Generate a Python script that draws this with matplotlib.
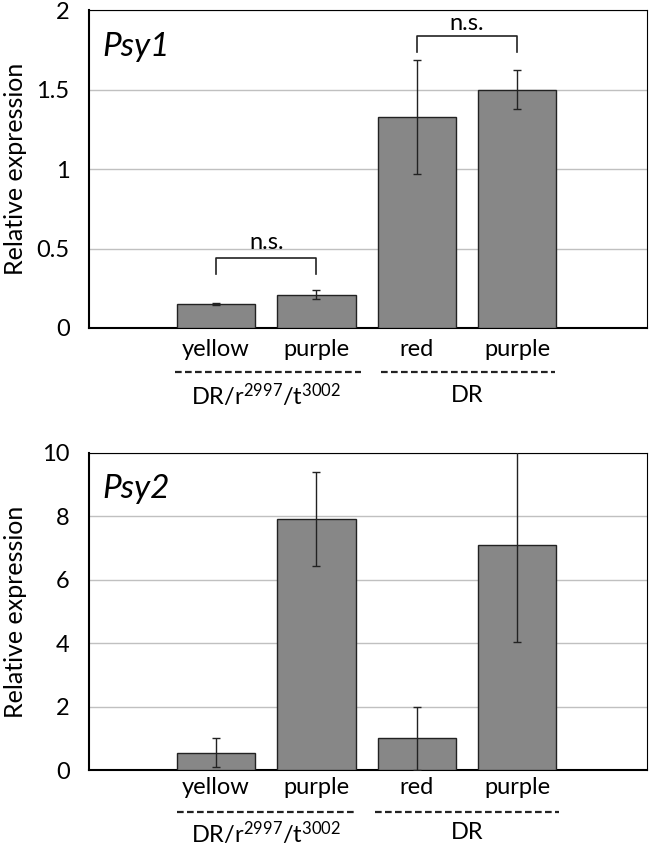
import numpy as np
import matplotlib
matplotlib.use("Agg")
import matplotlib.pyplot as plt
from matplotlib.transforms import blended_transform_factory

plt.rcParams['font.family'] = ['Lato', 'DejaVu Sans']
plt.rcParams['mathtext.fontset'] = 'custom'
plt.rcParams['mathtext.rm'] = 'Lato'
plt.rcParams['mathtext.it'] = 'Lato:italic'

# data
categories = ["yellow", "purple", "red", "purple"]
groups = [r"DR/r$^{2997}$/t$^{3002}$", "DR"]
psy1_mean = [0.15, 0.21, 1.33, 1.50]
psy1_err = [0.006, 0.029, 0.36, 0.124]
psy2_mean = [0.55, 7.92, 1.00, 7.10]
psy2_err = [0.46, 1.47, 1.00, 3.07]
psy1_ticks = [0, 0.5, 1, 1.5, 2]
psy1_ticklabels = ["0", "0.5", "1", "1.5", "2"]
psy2_ticks = [0, 2, 4, 6, 8, 10]

BAR_COLOR = "#878787"
FS = 17

fig = plt.figure(figsize=(6.5, 8.47), dpi=100)
ax1 = fig.add_axes([0.137, 0.6128, 0.858, 0.375])
ax2 = fig.add_axes([0.137, 0.0909, 0.858, 0.3743])

x = np.arange(len(categories))


def draw(ax, means, errs, ticks, ticklabels, ymax, gene, label_y, dash_y, group_y, dashes):
    ax.bar(x, means, width=0.78, color=BAR_COLOR, edgecolor="#222222", linewidth=1.0, zorder=3)
    ax.errorbar(x, means, yerr=errs, fmt="none", ecolor="#222222", elinewidth=1.0,
                capsize=3, capthick=1.0, zorder=4)
    ax.set_xlim(-1.265, 4.29)
    ax.set_ylim(0, ymax)
    ax.set_yticks(ticks)
    ax.set_yticklabels(ticklabels, fontsize=FS)
    ax.set_xticks([])
    ax.yaxis.grid(True, color="#c0c0c0", linewidth=1.0, zorder=0)
    ax.set_axisbelow(True)
    ax.tick_params(axis="y", length=0, pad=14)
    for s in ["top", "right"]:
        ax.spines[s].set_linewidth(0.8)
    for s in ["left", "bottom"]:
        ax.spines[s].set_linewidth(1.5)
    ax.set_ylabel("Relative expression", fontsize=18)
    ax.yaxis.set_label_coords(-0.131, 0.5)
    ax.yaxis.label.set_va("center")
    ax.text(0.023, 0.885, gene, transform=ax.transAxes, fontsize=24, style="italic",
            va="center", ha="left")
    tr = blended_transform_factory(ax.transData, ax.transAxes)
    for xi, c in zip(x, categories):
        ax.text(xi, label_y, c, transform=tr, ha="center", va="center", fontsize=FS)
    for (d0, d1) in dashes:
        ax.plot([d0, d1], [dash_y, dash_y], transform=tr, clip_on=False,
                color="#222222", linestyle=(0, (3.0, 1.5)), linewidth=1.6)
    ax.text(0.5, group_y, groups[0], transform=tr, ha="center", va="center", fontsize=FS)
    ax.text(2.5, group_y, groups[1], transform=tr, ha="center", va="center", fontsize=FS)


draw(ax1, psy1_mean, psy1_err, psy1_ticks, psy1_ticklabels, 2, "Psy1",
     -0.069, -0.138, -0.212, [(-0.41, 1.44), (1.64, 3.38)])
draw(ax2, psy2_mean, psy2_err, psy2_ticks, [str(t) for t in psy2_ticks], 10, "Psy2",
     -0.054, -0.132, -0.198, [(-0.39, 1.37), (1.58, 3.42)])


def bracket(ax, x0, x1, y0, y1, ty):
    ax.plot([x0, x0, x1, x1], [y0, y1, y1, y0], color="#222222", linewidth=1.2, zorder=5)
    ax.text((x0 + x1) / 2, ty, "n.s.", ha="center", va="center", fontsize=FS)


bracket(ax1, 0, 1, 0.342, 0.441, 0.54)
bracket(ax1, 2, 3, 1.738, 1.838, 1.92)

fig.savefig("out.png", dpi=100)
